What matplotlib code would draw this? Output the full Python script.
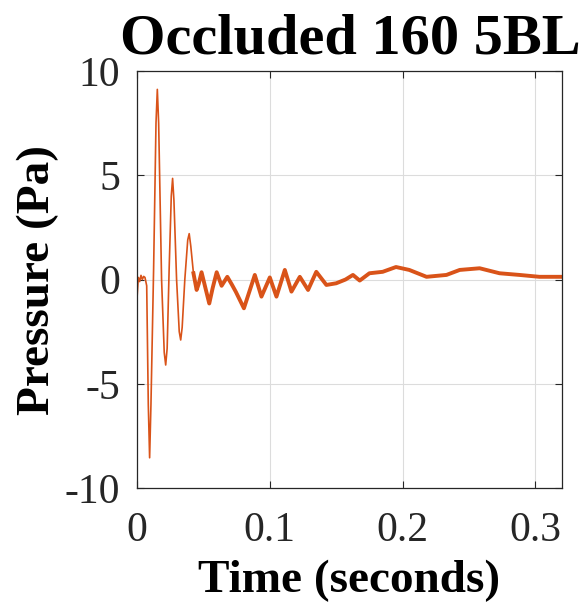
import numpy as np
import matplotlib
matplotlib.use('Agg')
import matplotlib.pyplot as plt

# values (time in s, pressure in Pa)
t_burst = [0.0, 0.001, 0.002, 0.003, 0.004, 0.005, 0.006, 0.0073, 0.0085,
           0.0095, 0.0105, 0.0125, 0.0143, 0.0153, 0.0163, 0.0185, 0.0205,
           0.0216, 0.0227, 0.0242, 0.0258, 0.0268, 0.0278, 0.0298, 0.0318,
           0.0329, 0.034, 0.036, 0.0382, 0.0393, 0.0405, 0.0425]
p_burst = [-0.9, 0.1, -0.1, 0.2, 0.0, 0.15, 0.1, -0.3, -6.0,
           -8.55, -6.0, 0.5, 7.5, 9.12, 7.5, 0.0, -3.5,
           -4.1, -3.3, 0.5, 4.0, 4.85, 3.8, 0.0, -2.5,
           -2.9, -2.3, 0.0, 1.9, 2.2, 1.6, 0.3]

t_tail = [0.0425, 0.0449, 0.0465, 0.0486, 0.0515, 0.0544, 0.057, 0.06,
          0.0637, 0.068, 0.0715, 0.0745, 0.0805, 0.0845, 0.0887, 0.0937,
          0.1, 0.105, 0.1113, 0.1163, 0.1226, 0.1288, 0.135, 0.1426,
          0.15, 0.157, 0.1626, 0.1677, 0.175, 0.185, 0.195, 0.205, 0.218,
          0.233, 0.243, 0.258, 0.273, 0.288, 0.303, 0.318, 0.32]
p_tail = [0.3, -0.5, -0.2, 0.35, -0.4, -1.15, -0.4, 0.35,
          -0.3, 0.13, -0.25, -0.6, -1.38, -0.6, 0.22, -0.82,
          0.1, -0.82, 0.46, -0.58, 0.13, -0.5, 0.37, -0.26,
          -0.18, 0.0, 0.22, -0.05, 0.3, 0.37, 0.6, 0.46, 0.13,
          0.22, 0.46, 0.54, 0.3, 0.22, 0.13, 0.13, 0.13]

x_ticks = [0, 0.1, 0.2, 0.3]
y_ticks = [-10, -5, 0, 5, 10]

plt.rcParams['font.family'] = ['Liberation Serif', 'DejaVu Serif']
plt.rcParams['axes.unicode_minus'] = False
color = '#D95319'

fig = plt.figure(figsize=(5.84, 6.07), dpi=100)
ax = fig.add_axes([0.2346, 0.196, 0.7277, 0.687])

ax.plot(t_burst, p_burst, color=color, lw=1.2)
ax.plot(t_tail, p_tail, color=color, lw=2.8, solid_joinstyle='round')

ax.set_xlim(0, 0.32)
ax.set_ylim(-10, 10)
ax.set_xticks(x_ticks)
ax.set_xticklabels(['0', '0.1', '0.2', '0.3'])
ax.set_yticks(y_ticks)
ax.grid(True, color='#dcdcdc', lw=0.8)
ax.set_axisbelow(True)
ax.tick_params(direction='in', length=5, width=0.8, colors='#262626',
               labelsize=30, top=True, right=True)
ax.tick_params(axis='x', pad=17)
ax.tick_params(axis='y', pad=12)
for s in ax.spines.values():
    s.set_color('#262626')
    s.set_linewidth(0.9)

ax.set_xlabel('Time (seconds)', fontsize=34, fontweight='bold', labelpad=7)
ax.set_ylabel('Pressure (Pa)', fontsize=34, fontweight='bold', labelpad=4)
fig.text(0.599, 1 - 53 / 607, 'Occluded 160 5BL', fontsize=42,
         fontweight='bold', ha='center', va='baseline')

fig.savefig('out.png', dpi=100)
